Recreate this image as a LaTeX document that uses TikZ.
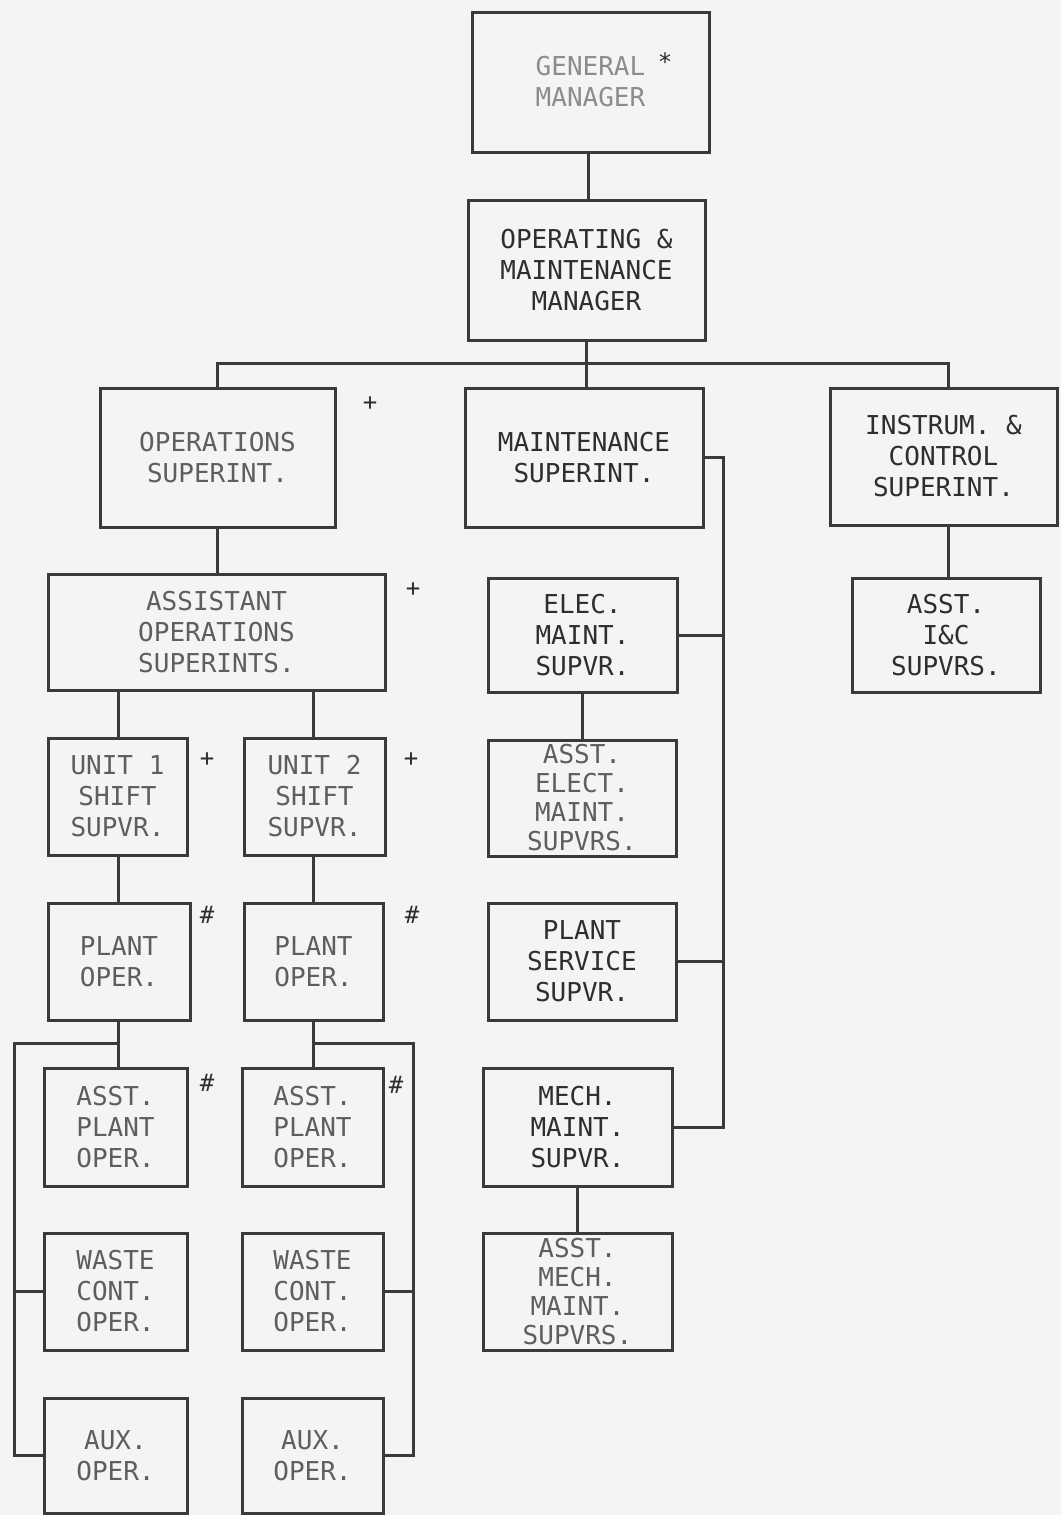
\documentclass[tikz,border=0pt]{standalone}
\usepackage{fontspec}
\newfontfamily\chartfont{DejaVu Sans Mono}
\definecolor{bg}{HTML}{F4F4F2}
\definecolor{ln}{HTML}{3A3A3A}
\definecolor{tx}{HTML}{5E5E5E}
\definecolor{txd}{HTML}{2E2E2E}
\definecolor{txl}{HTML}{8C8C8C}
\tikzset{
  box/.style={draw=ln, line width=3pt, align=center, inner sep=0pt,
    font=\chartfont\fontsize{26}{31}\selectfont, text=tx},
  tight/.style={font=\chartfont\fontsize{26}{29}\selectfont},
  dark/.style={text=txd},
  light/.style={text=txl},
  conn/.style={draw=ln, line width=3pt},
  note/.style={inner sep=0pt, text=txd, font=\chartfont\fontsize{24}{24}\selectfont}
}
\begin{document}
\begin{tikzpicture}[x=1pt,y=-1pt]
\fill[bg] (0,0) rectangle (1061,1515);
\useasboundingbox (0,0) rectangle (1061,1515);

% boxes
\node[box, light, minimum width=237pt, minimum height=140pt] (gm) at (590.5,82) {GENERAL\\MANAGER};
\node[box, dark, minimum width=237pt, minimum height=140pt] (omm) at (586.5,270) {OPERATING \&\\MAINTENANCE\\MANAGER};
\node[box, minimum width=235pt, minimum height=139pt] (ops) at (217.5,457.5) {OPERATIONS\\SUPERINT.};
\node[box, dark, minimum width=238pt, minimum height=139pt] (mnt) at (584,457.5) {MAINTENANCE\\SUPERINT.};
\node[box, dark, minimum width=227pt, minimum height=137pt] (ic) at (943.5,456.5) {INSTRUM. \&\\CONTROL\\SUPERINT.};
\node[box, minimum width=337pt, minimum height=116pt] (aos) at (216.5,632) {ASSISTANT\\OPERATIONS\\SUPERINTS.};
\node[box, dark, minimum width=189pt, minimum height=114pt] (elec) at (582.5,635) {ELEC.\\MAINT.\\SUPVR.};
\node[box, dark, minimum width=188pt, minimum height=114pt] (aic) at (946,635) {ASST.\\I\&C\\SUPVRS.};
\node[box, minimum width=139pt, minimum height=117pt] (u1) at (117.5,796.5) {UNIT 1\\SHIFT\\SUPVR.};
\node[box, minimum width=141pt, minimum height=117pt] (u2) at (314.5,796.5) {UNIT 2\\SHIFT\\SUPVR.};
\node[box, tight, minimum width=188pt, minimum height=116pt] (aelec) at (582,798) {ASST.\\ELECT.\\MAINT.\\SUPVRS.};
\node[box, minimum width=142pt, minimum height=117pt] (po1) at (119,961.5) {PLANT\\OPER.};
\node[box, minimum width=139pt, minimum height=117pt] (po2) at (313.5,961.5) {PLANT\\OPER.};
\node[box, dark, minimum width=188pt, minimum height=117pt] (ps) at (582,961.5) {PLANT\\SERVICE\\SUPVR.};
\node[box, minimum width=143pt, minimum height=118pt] (apo1) at (115.5,1127) {ASST.\\PLANT\\OPER.};
\node[box, minimum width=141pt, minimum height=118pt] (apo2) at (312.5,1127) {ASST.\\PLANT\\OPER.};
\node[box, dark, minimum width=189pt, minimum height=118pt] (mech) at (577.5,1127) {MECH.\\MAINT.\\SUPVR.};
\node[box, minimum width=143pt, minimum height=117pt] (wc1) at (115.5,1291.5) {WASTE\\CONT.\\OPER.};
\node[box, minimum width=141pt, minimum height=117pt] (wc2) at (312.5,1291.5) {WASTE\\CONT.\\OPER.};
\node[box, tight, minimum width=189pt, minimum height=117pt] (amech) at (577.5,1291.5) {ASST.\\MECH.\\MAINT.\\SUPVRS.};
\node[box, minimum width=143pt, minimum height=115pt] (aux1) at (115.5,1455.5) {AUX.\\OPER.};
\node[box, minimum width=141pt, minimum height=115pt] (aux2) at (312.5,1455.5) {AUX.\\OPER.};

% notes
\node[note] (n0) at (665,62) {*};
\node[note] (n1) at (370,404) {+};
\node[note] (n2) at (413,590) {+};
\node[note] (n3) at (207,760) {+};
\node[note] (n4) at (411,760) {+};
\node[note] (n5) at (207,915) {\#};
\node[note] (n6) at (412,915) {\#};
\node[note] (n7) at (207,1083) {\#};
\node[note] (n8) at (396,1085) {\#};

% coordinates for bus lines
\coordinate (busy) at (0,363);
\coordinate (lefty) at (14,1043);
\coordinate (righty) at (413,1043);
\coordinate (mx) at (723,0);

% connectors
\draw[conn] (gm.south -| 588,0) -- (omm.north -| 588,0);
\draw[conn] (omm.south -| 586,0) -- (mnt.north -| 586,0);
\draw[conn] (ops.north) -- (ops.north |- busy) -- (948,363) -- (ic.north -| 948,0);
\draw[conn] (ops.south) -- (ops.south |- aos.north);
\draw[conn] (u1.north -| 118,0) -- (aos.south -| 118,0);
\draw[conn] (u2.north -| 313,0) -- (aos.south -| 313,0);
\draw[conn] (u1.south -| 118,0) -- (po1.north -| 118,0);
\draw[conn] (u2.south -| 313,0) -- (po2.north -| 313,0);
\draw[conn] (po1.south -| 118,0) -- (apo1.north -| 118,0);
\draw[conn] (po2.south -| 313,0) -- (apo2.north -| 313,0);
\draw[conn] (118,1043) -- (lefty) -- (lefty |- aux1.west) -- (aux1.west);
\draw[conn] (lefty |- wc1.west) -- (wc1.west);
\draw[conn] (313,1043) -- (righty) -- (righty |- aux2.east) -- (aux2.east);
\draw[conn] (righty |- wc2.east) -- (wc2.east);
\draw[conn] (mnt.east) -- (mnt.east -| mx) -- (mech.east -| mx) -- (mech.east);
\draw[conn] (elec.east) -- (elec.east -| mx);
\draw[conn] (ps.east) -- (ps.east -| mx);
\draw[conn] (elec.south -| 582,0) -- (aelec.north -| 582,0);
\draw[conn] (mech.south) -- (amech.north);
\draw[conn] (ic.south -| 948,0) -- (aic.north -| 948,0);
\end{tikzpicture}
\end{document}
